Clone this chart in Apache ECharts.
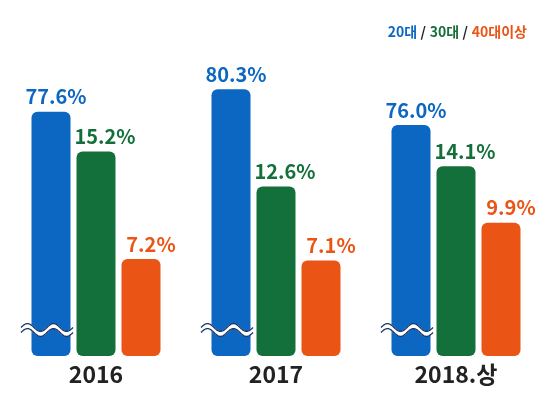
<!DOCTYPE html>
<html>
<head>
<meta charset="utf-8">
<script src="https://cdn.jsdelivr.net/npm/echarts@6/dist/echarts.min.js"></script>
<style>
html,body{margin:0;padding:0;background:#fff;}
#c{width:550px;height:396px;}
</style>
</head>
<body>
<div id="c"></div>
<script>
const years = ['2016', '2017', '2018.상'];
const seriesNames = ['20대', '30대', '40대이상'];
const age20 = [77.6, 80.3, 76.0];
const age30 = [15.2, 12.6, 14.1];
const age40 = [7.2, 7.1, 9.9];

const BLUE = '#0b67c2', GREEN = '#14703a', ORANGE = '#ea5516';
const FONT = '"Noto Sans CJK KR", "Noto Sans", sans-serif';
const BAR_W = 39, GAP = 6;

const chart = echarts.init(document.getElementById('c'));

function labelOf(color, dx) {
  return {
    show: true, position: 'top', distance: 5, offset: [dx, 0],
    color: color, fontFamily: FONT, fontWeight: 'bold', fontSize: 20,
    formatter: p => p.value.toFixed(1) + '%'
  };
}

const legendColors = {'20대': BLUE, '30대': GREEN, '40대이상': ORANGE};

chart.setOption({
  animation: false,
  backgroundColor: '#fff',
  legend: {
    right: 18, top: 20,
    icon: 'none', itemWidth: 0, itemHeight: 0, itemGap: -1,
    selectedMode: false,
    data: seriesNames.map(n => ({name: n, textStyle: {color: legendColors[n]}})),
    textStyle: {
      fontFamily: FONT, fontWeight: 'bold', fontSize: 14,
      rich: {s: {color: '#222', fontFamily: FONT, fontWeight: 'bold', fontSize: 14}}
    },
    formatter: n => n === seriesNames[2] ? n : n + ' {s|/}'
  },
  grid: {left: 6, right: 4, top: 40, bottom: 40, containLabel: false},
  xAxis: {
    type: 'category', data: years,
    axisLine: {show: false}, axisTick: {show: false},
    axisLabel: {color: '#222', fontFamily: FONT, fontWeight: 'bold', fontSize: 23, margin: 7}
  },
  yAxis: [
    {type: 'value', min: 0, max: 23.48, show: false, splitLine: {show: false}},
    {type: 'value', min: 48.3, max: 86.2, show: false, splitLine: {show: false}}
  ],
  series: [
    {
      name: seriesNames[0], type: 'bar', yAxisIndex: 1, data: age20,
      barWidth: BAR_W, barGap: (GAP / BAR_W * 100) + '%',
      itemStyle: {color: BLUE, borderRadius: 6},
      label: labelOf(BLUE, 5)
    },
    {
      name: seriesNames[1], type: 'bar', yAxisIndex: 0, data: age30,
      barWidth: BAR_W, barGap: (GAP / BAR_W * 100) + '%',
      itemStyle: {color: GREEN, borderRadius: 6},
      label: labelOf(GREEN, 9)
    },
    {
      name: seriesNames[2], type: 'bar', yAxisIndex: 0, data: age40,
      barWidth: BAR_W, barGap: (GAP / BAR_W * 100) + '%',
      itemStyle: {color: ORANGE, borderRadius: 6},
      label: labelOf(ORANGE, 10)
    },
    {
      // broken-axis marks on the 20대 bars
      type: 'custom', yAxisIndex: 0, silent: true, z: 10,
      data: years.map((y, i) => [i]),
      renderItem: function (params, api) {
        const base = api.coord([api.value(0), 0]);
        const cx = base[0] - (BAR_W + GAP) - 4;
        const cy = base[1] - 26;
        const w = 52, amp = 4, period = 26;
        function wave(dy) {
          const pts = [];
          for (let k = 0; k <= 52; k++) {
            const x = cx - w / 2 + k;
            pts.push([x, cy + dy - amp * Math.sin((k / period) * 2 * Math.PI)]);
          }
          return pts;
        }
        return {
          type: 'group',
          children: [
            {type: 'polyline', shape: {points: wave(0)}, style: {stroke: '#fff', lineWidth: 5, fill: null}},
            {type: 'polyline', shape: {points: wave(-2.5)}, style: {stroke: '#15336b', lineWidth: 1.3, fill: null}},
            {type: 'polyline', shape: {points: wave(2.5)}, style: {stroke: '#15336b', lineWidth: 1.3, fill: null}}
          ]
        };
      }
    }
  ]
});
</script>
</body>
</html>
